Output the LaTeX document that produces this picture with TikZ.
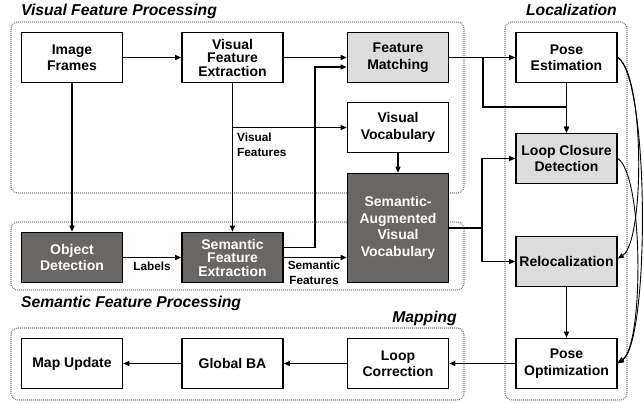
\documentclass[tikz,border=0pt]{standalone}
\usepackage{fontspec}
\setmainfont{Liberation Sans}
\usetikzlibrary{arrows.meta}
\definecolor{darkbox}{RGB}{106,102,100}
\definecolor{lightbox}{RGB}{220,220,220}
\definecolor{groupline}{RGB}{125,125,125}
\begin{document}
\begin{tikzpicture}[x=1pt,y=-1pt,
  box/.style={draw, line width=1.6pt, minimum width=101pt, minimum height=50pt, align=center,
    font=\fontsize{14}{16.5}\selectfont\bfseries, inner sep=2pt, fill=white},
  tight/.style={font=\fontsize{14}{13.5}\selectfont\bfseries},
  darkb/.style={box, fill=darkbox, text=white},
  lightb/.style={box, fill=lightbox},
  arr/.style={line width=1.2pt, -{Triangle[length=6pt,width=5pt]}},
  conn/.style={line width=1.2pt},
  group/.style={draw=groupline, line width=1.1pt, dash pattern=on 1pt off 1pt, rounded corners=7pt},
  title/.style={font=\fontsize{15.7}{18}\selectfont\bfseries\itshape, inner sep=0pt},
  lab/.style={font=\fontsize{11.8}{15}\selectfont\bfseries, inner sep=0pt}
]
\useasboundingbox (0,0) rectangle (644,402);
% group frames
\draw[group] (11,22) rectangle (464,193);
\draw[group] (11,222) rectangle (464,290);
\draw[group] (11,328) rectangle (464,400);
\draw[group] (505,22) rectangle (627,400);
% titles
\node[title, anchor=base west] (tvfp) at (21,15) {Visual Feature Processing};
\node[title, anchor=base east] (tloc) at (617,15) {Localization};
\node[title, anchor=base west] (tsfp) at (21,307) {Semantic Feature Processing};
\node[title, anchor=base east] (tmap) at (457,322) {Mapping};
% nodes
\node[box] (if) at (72,57.5) {Image\\Frames};
\node[box, tight] (vfe) at (232.5,57.5) {Visual\\Feature\\Extraction};
\node[lightb] (fm) at (398,57.5) {Feature\\Matching};
\node[box] (pe) at (566.5,57.5) {Pose\\Estimation};
\node[box] (vv) at (398,127.5) {Visual\\Vocabulary};
\node[lightb] (lcd) at (566.5,158.5) {Loop Closure\\Detection};
\node[darkb, minimum height=109pt] (savv) at (398,228) {Semantic-\\Augmented\\Visual\\Vocabulary};
\node[darkb] (od) at (72,257.5) {Object\\Detection};
\node[darkb, tight] (sfe) at (232.5,257.5) {Semantic\\Feature\\Extraction};
\node[lightb] (reloc) at (566.5,261.5) {Relocalization};
\node[box] (mu) at (72,363.5) {Map Update};
\node[box] (gba) at (232.5,363.5) {Global BA};
\node[box] (lc) at (398,363.5) {Loop\\Correction};
\node[box] (po) at (566.5,363.5) {Pose\\Optimization};
% connectors
\draw[arr] (if) -- (vfe);
\draw[arr] (if) -- (od);
\draw[arr] (vfe) -- (fm);
\draw[arr] (vfe) -- (sfe);
\coordinate (vfb) at (232.5,127.5);
\draw[arr] (vfb) -- (vv);
\node[lab, anchor=north west, align=left] (lvf) at (237,133) {Visual\\Features};
\draw[arr] (vv) -- (savv);
\draw[arr] (od) -- (sfe);
\node[lab] (llab) at (152,266) {Labels};
\coordinate (sfu) at (315,67);
\draw[arr] ([yshift=10pt]sfe.east) -| (sfu) -- ([yshift=-9.5pt]fm.west);
\draw[arr] (sfe.east) -- (sfe.east -| savv.west);
\node[lab, align=center] (lsf) at (314,272.5) {Semantic\\Features};
\draw[arr] (fm) -- (pe);
\coordinate (fmb) at (483,57.5);
\coordinate (fmd) at (483,107);
\draw[arr] (fmb) -- (fmd) -| (lcd.north);
\draw[arr] (pe) -- (lcd);
\coordinate (sb) at (482,228);
\draw[conn] (savv.east |- sb) -- (sb);
\draw[arr] (sb) |- (lcd.west);
\draw[arr] (sb) |- (reloc.west);
\draw[arr] (reloc) -- (po);
\draw[arr] (po) -- (lc);
\draw[arr] (lc) -- (gba);
\draw[arr] (gba) -- (mu);
% curves
\draw[arr, line width=0.9pt] (pe.east) .. controls +(27,17) and +(27,-17) .. ([yshift=3pt]reloc.east);
\draw[arr, line width=0.9pt] (pe.east) .. controls +(32,22) and +(32,-22) .. (po.east);
\draw[arr, line width=0.9pt] (lcd.east) .. controls +(26,17) and +(26,-17) .. ([yshift=1pt]po.east);
\end{tikzpicture}
\end{document}
